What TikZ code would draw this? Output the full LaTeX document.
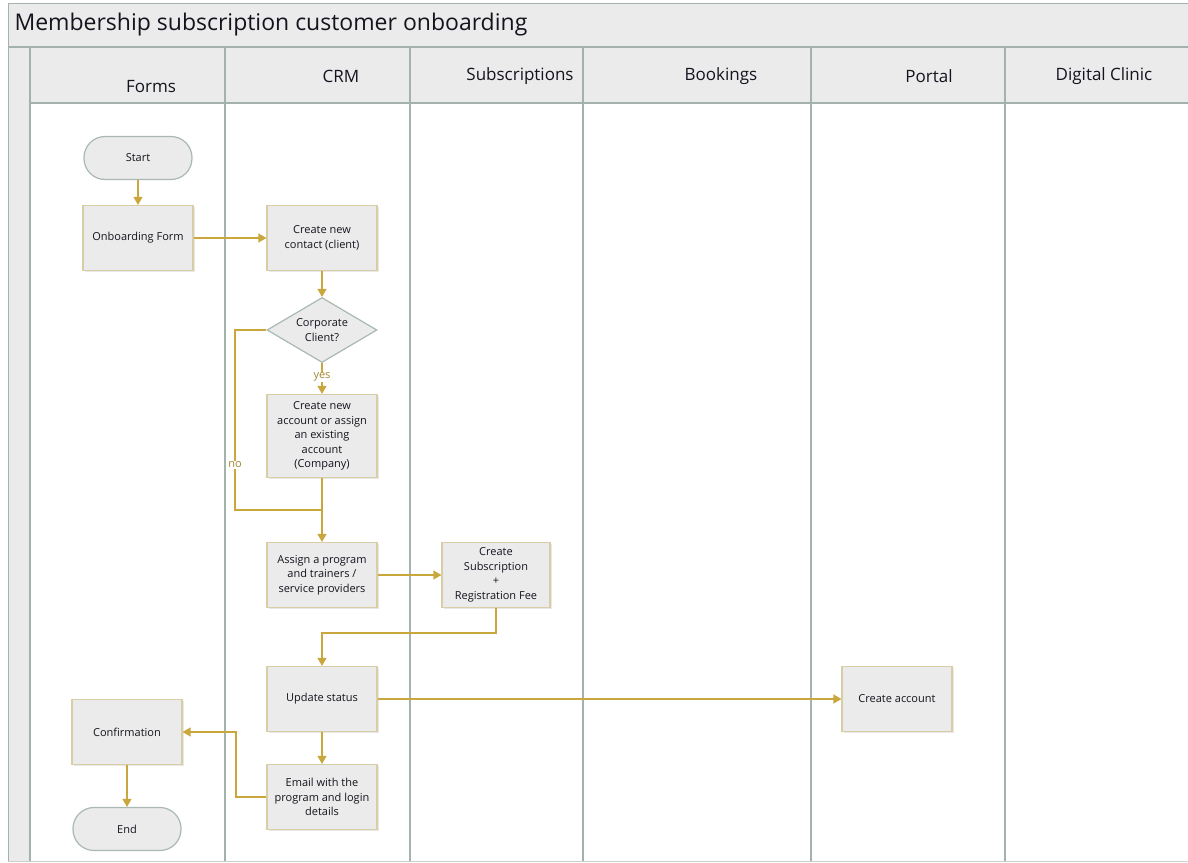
\documentclass[tikz,border=0pt]{standalone}
\usepackage{fontspec}
\setmainfont{Open Sans}
\usetikzlibrary{arrows.meta,shapes.geometric,shadows}

\definecolor{lanegray}{HTML}{EBEBEB}
\definecolor{laneline}{HTML}{A3B3AC}
\definecolor{boxline}{HTML}{D9CDA6}
\definecolor{termline}{HTML}{A9B9B1}
\definecolor{flowgold}{HTML}{C9A73C}
\definecolor{txt}{HTML}{14141E}

\tikzset{
  proc/.style={draw=boxline, line width=1.2pt, fill=lanegray, minimum width=110pt,
    minimum height=65pt, align=center, font=\fontsize{11}{14.5}\selectfont, text=txt,
    drop shadow={opacity=0.18, shadow xshift=1.5pt, shadow yshift=-1.5pt}},
  term/.style={draw=termline, line width=1.2pt, fill=lanegray, rounded corners=21pt,
    minimum width=108pt, minimum height=43pt, font=\fontsize{11}{13}\selectfont, text=txt},
  decide/.style={diamond, aspect=1.7, draw=termline, line width=1.2pt, fill=lanegray,
    minimum width=110pt, minimum height=65pt, inner sep=0pt, align=center,
    font=\fontsize{11}{14.5}\selectfont, text=txt},
  lanehead/.style={font=\fontsize{17}{19}\selectfont, text=txt},
  flow/.style={draw=flowgold, line width=1.2pt, -{Triangle[width=9pt,length=8pt]}},
  flowline/.style={draw=flowgold, line width=1.2pt},
  lbl/.style={font=\fontsize{11}{12}\selectfont, text=flowgold!80!black, fill=white, inner sep=1pt}
}

\begin{document}
\begin{tikzpicture}[x=1pt,y=-1pt]
\useasboundingbox (0,0) rectangle (1188,862);
\fill[lanegray] (8,3) rectangle (1188,47);
\fill[lanegray] (30,47) rectangle (1188,103);
\fill[lanegray] (8,47) rectangle (30,862);
\draw[laneline, line width=1pt] (8,862) -- (8,3) -- (1188,3);
\draw[laneline, line width=1.5pt] (8,47) -- (1188,47);
\draw[laneline, line width=2pt] (30,103) -- (1188,103);
\foreach \x in {30,225,410,583,811,1005}
  \draw[laneline, line width=1.5pt] (\x,47) -- (\x,862);
\draw[laneline!60, line width=1pt] (8,861) -- (1188,861);

\node[font=\fontsize{23}{26}\selectfont, text=txt, anchor=west] (title) at (11,25) {Membership subscription customer onboarding};
\node[lanehead] (hforms) at (151,87) {Forms};
\node[lanehead] (hcrm) at (341,76) {CRM};
\node[lanehead] (hsubs) at (520,76) {Subscriptions};
\node[lanehead] (hbook) at (721,76) {Bookings};
\node[lanehead] (hportal) at (929,76) {Portal};
\node[lanehead] (hclinic) at (1104,76) {Digital Clinic};

\node[term] (start) at (138,158) {Start};
\node[proc] (form) at (138,238) {Onboarding Form};
\node[proc] (contact) at (322,238) {Create new\\contact (client)};
\node[decide] (corp) at (322,330) {Corporate\\Client?};
\node[proc, minimum height=83pt] (account) at (322,436) {Create new\\account or assign\\an existing\\account\\(Company)};
\node[proc] (assign) at (322,575) {Assign a program\\and trainers /\\service providers};
\node[proc, minimum width=108pt] (subscr) at (496,575) {Create\\Subscription\\+\\Registration Fee};
\node[proc] (update) at (322,699) {Update status};
\node[proc] (portalacc) at (897,699) {Create account};
\node[proc] (email) at (322,797) {Email with the\\program and login\\details};
\node[proc] (confirm) at (127,732) {Confirmation};
\node[term] (stop) at (127,829) {End};

\coordinate (nojoin) at (322,510);
\coordinate (subturn) at (496,633);

\draw[flow] (start) -- (form);
\draw[flow] (form) -- (contact);
\draw[flow] (contact) -- (corp);
\draw[flow] (corp) -- node[lbl, pos=0.45] {yes} (account);
\draw[flowline] (corp.west) -- (235,330) -- node[lbl, pos=0.75] {no} (235,510) -- (nojoin);
\draw[flow] (account) -- (assign);
\draw[flow] (assign) -- (subscr);
\draw[flow] (subscr) -- (subturn) -| (update);
\draw[flow] (update) -- (portalacc);
\draw[flow] (update) -- (email);
\draw[flow] (email.west) -- (236,797) |- (confirm.east);
\draw[flow] (confirm) -- (stop);
\end{tikzpicture}
\end{document}
